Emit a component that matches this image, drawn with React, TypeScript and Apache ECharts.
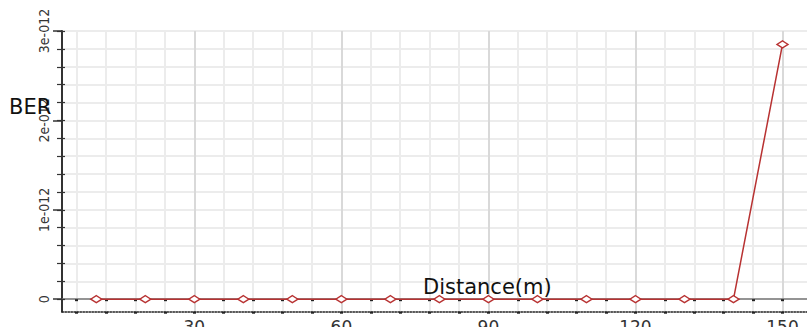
import React, { useEffect, useRef } from "react";
import * as echarts from "echarts";

// Link distance (m) and measured bit error rate
const distances = [10, 20, 30, 40, 50, 60, 70, 80, 90, 100, 110, 120, 130, 140, 150];
const berValues = [0, 0, 0, 0, 0, 0, 0, 0, 0, 0, 0, 0, 0, 0, 2.85e-12];

// Axis ticks and labels
const xGridTicks = [6, 12, 18, 24, 30, 36, 42, 48, 54, 60, 66, 72, 78, 84, 90, 96, 102, 108, 114, 120, 126, 132, 138, 144, 150];
const xLabelTicks = [30, 60, 90, 120, 150];
const yMinorTicks = [0, 2e-13, 4e-13, 6e-13, 8e-13, 1e-12, 1.2e-12, 1.4e-12, 1.6e-12, 1.8e-12, 2e-12, 2.2e-12, 2.4e-12, 2.6e-12, 2.8e-12, 3e-12];
const yLabelTicks = [0, 1e-12, 2e-12, 3e-12];

const X_MIN = 3;
const X_MAX = 155;
const Y_MIN = -0.14e-12;
const Y_MAX = 3e-12;

const formatBer = (v: number) => {
  if (Math.abs(v) < 1e-20) return "0";
  const m = Math.round(v / 1e-12);
  return `${m}e-012`;
};

export default function App() {
  const ref = useRef<HTMLDivElement>(null);

  useEffect(() => {
    if (!ref.current) return;
    const chart = echarts.init(ref.current, undefined, { renderer: "svg" });
    const axisColor = "#333";
    const red = "#b83232";

    const baseX = {
      type: "value" as const,
      min: X_MIN,
      max: X_MAX,
      position: "bottom" as const,
    };
    const baseY = {
      type: "value" as const,
      min: Y_MIN,
      max: Y_MAX,
      position: "left" as const,
    };

    chart.setOption({
      animation: false,
      backgroundColor: "#ffffff",
      grid: {
        left: 62,
        right: 0,
        top: 31,
        bottom: 15.3,
        containLabel: false,
        outerBoundsMode: "none",
      },
      xAxis: [
        {
          // zero line with tick dots, light vertical grid
          ...baseX,
          axisLine: { onZero: true, lineStyle: { color: "#777", width: 1.5 } },
          axisTick: { customValues: xGridTicks, length: 2, lineStyle: { color: "#222", width: 3 } },
          axisLabel: { show: false },
          splitLine: { show: true, lineStyle: { color: "#ececec", width: 2 } },
        },
        {
          // bottom dotted axis with labels
          ...baseX,
          axisLine: { onZero: false, lineStyle: { color: "#222", width: 1.5, type: [1.5, 1.5] } },
          axisTick: { customValues: xGridTicks, length: 2, lineStyle: { color: "#222", width: 3 } },
          axisLabel: {
            customValues: xLabelTicks,
            margin: 7,
            color: "#333",
            fontSize: 17,
            fontFamily: "DejaVu Sans",
          },
          splitLine: { show: false },
        },
        {
          // major vertical grid lines
          ...baseX,
          axisLine: { show: false, onZero: false },
          axisTick: { show: false, customValues: xLabelTicks },
          axisLabel: { show: false },
          splitLine: { show: true, lineStyle: { color: "#d9d9d9", width: 2 } },
        },
      ],
      yAxis: [
        {
          ...baseY,
          axisLine: { show: true, onZero: false, lineStyle: { color: axisColor, width: 2 } },
          axisTick: { customValues: yLabelTicks, length: 9, lineStyle: { color: axisColor, width: 1.5 } },
          axisLabel: {
            customValues: yLabelTicks,
            rotate: 90,
            margin: 11,
            color: "#333",
            fontSize: 14,
            fontFamily: "'Liberation Sans Narrow', 'DejaVu Sans Condensed', 'Liberation Sans', sans-serif",
            formatter: (v: number) => formatBer(v),
          },
          splitLine: { show: false },
        },
        {
          ...baseY,
          axisLine: { show: false, onZero: false },
          axisTick: { customValues: yMinorTicks, length: 5, lineStyle: { color: axisColor, width: 1.2 } },
          axisLabel: { show: false },
          splitLine: { show: true, lineStyle: { color: "#ececec", width: 2 } },
        },
        {
          ...baseY,
          axisLine: { show: false, onZero: false },
          axisTick: { customValues: yMinorTicks, inside: true, length: 3, lineStyle: { color: axisColor, width: 1.2 } },
          axisLabel: { show: false },
          splitLine: { show: false },
        },
      ],
      graphic: [
        {
          type: "text",
          left: 9,
          top: 96,
          z: 100,
          style: { text: "BER", font: '21px "DejaVu Sans"', fill: "#111" },
        },
        {
          type: "text",
          left: 423,
          top: 276,
          z: 100,
          style: { text: "Distance(m)", font: '21px "DejaVu Sans"', fill: "#111" },
        },
      ],
      series: [
        {
          type: "line",
          xAxisIndex: 0,
          yAxisIndex: 0,
          data: distances.map((d, i) => [d, berValues[i]]),
          symbol: "diamond",
          symbolSize: [11, 7],
          showSymbol: true,
          lineStyle: { color: red, width: 1.5 },
          itemStyle: { color: "#ffffff", borderColor: red, borderWidth: 1.5 },
          z: 10,
        },
      ],
    });

    return () => chart.dispose();
  }, []);

  return (
    <div
      ref={ref}
      style={{ position: "fixed", left: 0, top: 0, width: 807, height: 327, background: "#fff" }}
    />
  );
}
